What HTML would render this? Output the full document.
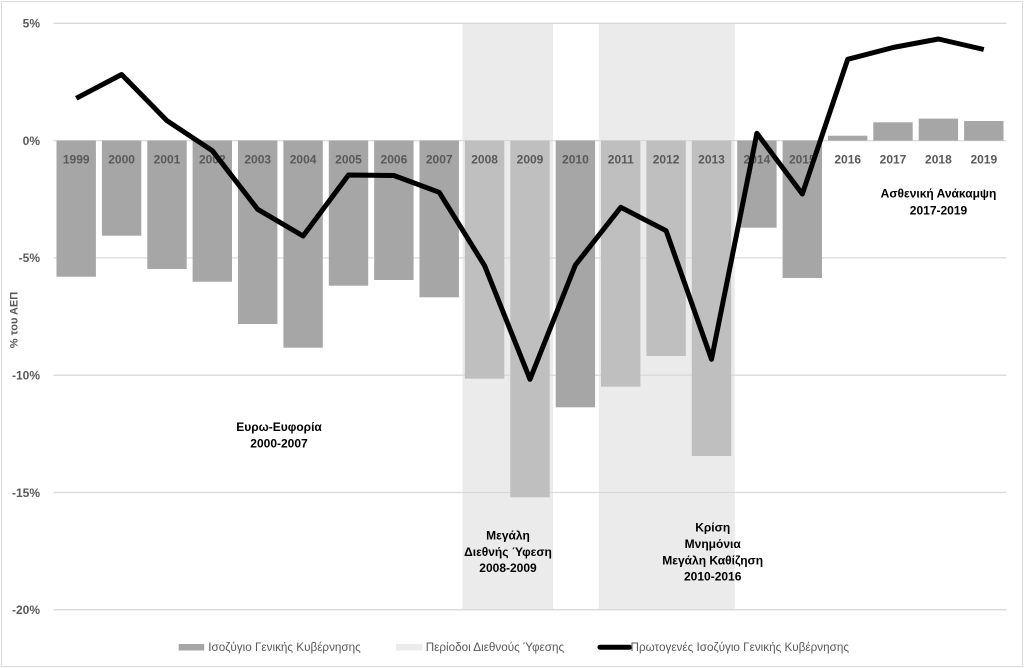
<!DOCTYPE html>
<html><head><meta charset="utf-8"><style>
html,body{margin:0;padding:0;background:#fff;}
svg{display:block;font-family:"Liberation Sans","DejaVu Sans",sans-serif;}
</style></head><body>
<svg width="1024" height="668" viewBox="0 0 1024 668" xmlns="http://www.w3.org/2000/svg">
<rect x="1.5" y="1.5" width="1021" height="665" fill="#fff" stroke="#d9d9d9" stroke-width="1"/>
<!-- shaded bands -->
<rect x="462.5" y="23.3" width="90.5" height="586.4" fill="#ebebeb"/>
<rect x="598.8" y="23.3" width="136" height="586.4" fill="#ebebeb"/>
<!-- gridlines -->
<g stroke="#d9d9d9" stroke-width="1.3">
<line x1="53.5" x2="1006.5" y1="23.3" y2="23.3"/>
<line x1="53.5" x2="1006.5" y1="140.6" y2="140.6"/>
<line x1="53.5" x2="1006.5" y1="257.9" y2="257.9"/>
<line x1="53.5" x2="1006.5" y1="375.2" y2="375.2"/>
<line x1="53.5" x2="1006.5" y1="492.5" y2="492.5"/>
<line x1="53.5" x2="1006.5" y1="609.7" y2="609.7"/>
</g>
<!-- y tick labels -->
<g font-size="12" font-weight="bold" fill="#595959" text-anchor="end">
<text x="40" y="27.6">5%</text>
<text x="40" y="144.9">0%</text>
<text x="40" y="262.2">-5%</text>
<text x="40" y="379.5">-10%</text>
<text x="40" y="496.8">-15%</text>
<text x="40" y="614">-20%</text>
</g>
<text transform="translate(17.5,320) rotate(-90)" font-size="11" font-weight="bold" fill="#595959" text-anchor="middle">% του ΑΕΠ</text>
<!-- bars -->
<g fill="#a6a6a6">
<rect x="56.5" y="140.6" width="39.4" height="136.1"/>
<rect x="101.9" y="140.6" width="39.4" height="95.1"/>
<rect x="147.3" y="140.6" width="39.4" height="128.4"/>
<rect x="192.6" y="140.6" width="39.4" height="141.1"/>
<rect x="238" y="140.6" width="39.4" height="183.4"/>
<rect x="283.4" y="140.6" width="39.4" height="207.1"/>
<rect x="328.8" y="140.6" width="39.4" height="145.1"/>
<rect x="374.2" y="140.6" width="39.4" height="139.4"/>
<rect x="419.5" y="140.6" width="39.4" height="156.7"/>
<rect x="737.2" y="140.6" width="39.4" height="87.1"/>
<rect x="782.6" y="140.6" width="39.4" height="137.4"/>
<rect x="828" y="135.7" width="39.4" height="4.9"/>
<rect x="873.3" y="122.3" width="39.4" height="18.3"/>
<rect x="918.7" y="118.6" width="39.4" height="22"/>
<rect x="964.1" y="121" width="39.4" height="19.6"/>
<rect x="555.7" y="140.6" width="39.4" height="266.7"/>
</g>
<g fill="#bfbfbf">
<rect x="464.9" y="140.6" width="39.4" height="238.1"/>
<rect x="510.3" y="140.6" width="39.4" height="356.7"/>
<rect x="601" y="140.6" width="39.4" height="246.1"/>
<rect x="646.4" y="140.6" width="39.4" height="215.4"/>
<rect x="691.8" y="140.6" width="39.4" height="315.4"/>
</g>
<!-- year labels -->
<g font-size="12" font-weight="bold" fill="#595959" text-anchor="middle">
<text x="76.2" y="163.6">1999</text>
<text x="121.6" y="163.6">2000</text>
<text x="167" y="163.6">2001</text>
<text x="212.3" y="163.6">2002</text>
<text x="257.7" y="163.6">2003</text>
<text x="303.1" y="163.6">2004</text>
<text x="348.5" y="163.6">2005</text>
<text x="393.9" y="163.6">2006</text>
<text x="439.2" y="163.6">2007</text>
<text x="484.6" y="163.6">2008</text>
<text x="530" y="163.6">2009</text>
<text x="575.4" y="163.6">2010</text>
<text x="620.8" y="163.6">2011</text>
<text x="666.1" y="163.6">2012</text>
<text x="711.5" y="163.6">2013</text>
<text x="756.9" y="163.6">2014</text>
<text x="802.3" y="163.6">2015</text>
<text x="847.7" y="163.6">2016</text>
<text x="893" y="163.6">2017</text>
<text x="938.4" y="163.6">2018</text>
<text x="983.8" y="163.6">2019</text>
</g>
<!-- line -->
<polyline fill="none" stroke="#000" stroke-width="5" stroke-linejoin="round" stroke-linecap="butt"
points="76.2,98.3 121.6,74.5 167,120.7 212.3,150.7 257.7,209.3 303.1,236 348.5,175 393.9,175.5 439.2,192.3 484.6,265.7 530,379.3 575.4,265 620.8,207.3 666.1,230.7 711.5,359.3 756.9,133.3 802.3,194 847.7,59.3 893,47.5 938.4,39 983.8,49.5"/>
<!-- annotations -->
<g font-size="12" font-weight="bold" fill="#000" text-anchor="middle">
<text x="279" y="431">Ευρω-Ευφορία</text>
<text x="279" y="447.6">2000-2007</text>
<text x="508" y="539.3">Μεγάλη</text>
<text x="508" y="556">Διεθνής Ύφεση</text>
<text x="508" y="572">2008-2009</text>
<text x="712.7" y="531.6">Κρίση</text>
<text x="712.7" y="548">Μνημόνια</text>
<text x="712.7" y="564.3">Μεγάλη Καθίζηση</text>
<text x="712.7" y="580.3">2010-2016</text>
<text x="938.5" y="197.6">Ασθενική Ανάκαμψη</text>
<text x="938.5" y="214.3">2017-2019</text>
</g>
<!-- legend -->
<rect x="178.7" y="644" width="25.5" height="6.5" fill="#a6a6a6"/>
<rect x="396" y="644" width="26.5" height="6.5" fill="#ebebeb"/>
<line x1="600" x2="629.5" y1="647.2" y2="647.2" stroke="#000" stroke-width="5" stroke-linecap="round"/>
<g font-size="11.7" fill="#595959">
<text x="208.3" y="651">Ισοζύγιο Γενικής Κυβέρνησης</text>
<text x="425.7" y="651">Περίοδοι Διεθνούς Ύφεσης</text>
<text x="630.5" y="651">Πρωτογενές Ισοζύγιο Γενικής Κυβέρνησης</text>
</g>
</svg>
</body></html>
